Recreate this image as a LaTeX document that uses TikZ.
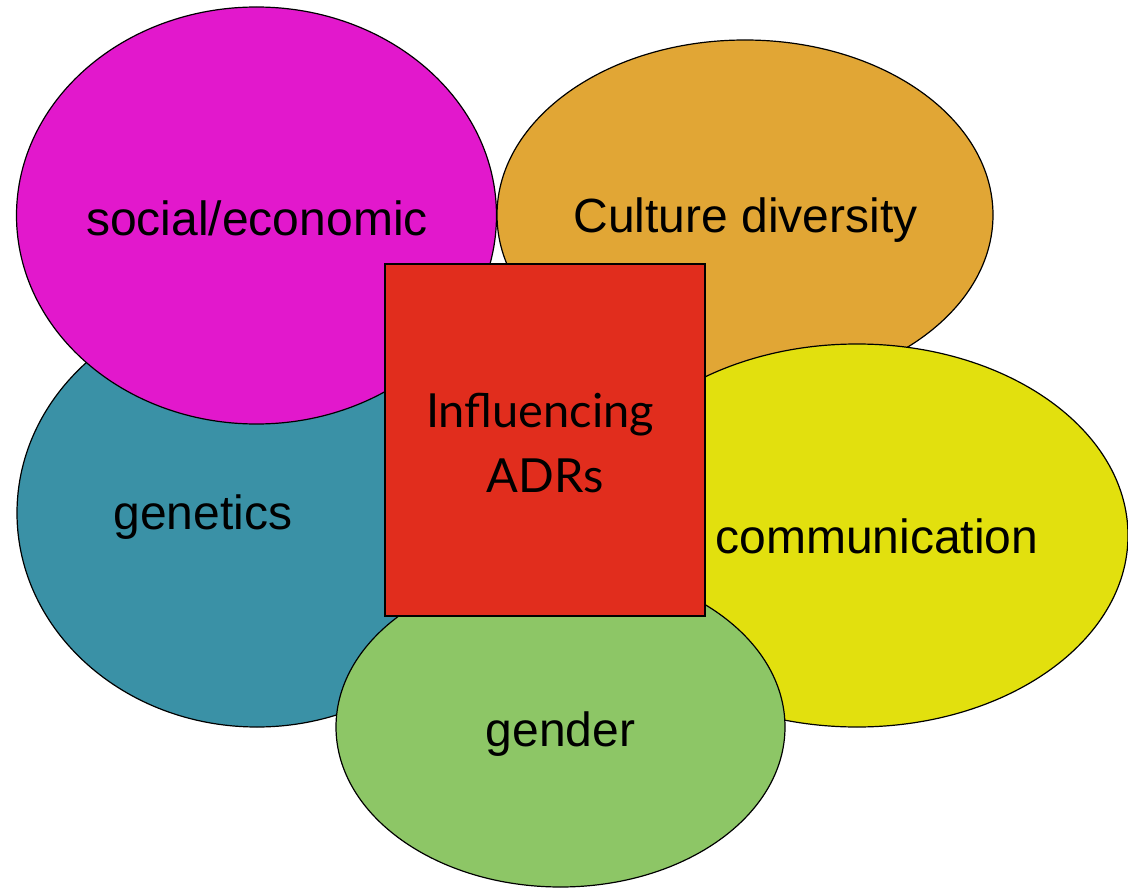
\documentclass[tikz,border=0pt]{standalone}
\usepackage{fontspec}
\usetikzlibrary{shapes.geometric}
\newfontfamily\labelfont{Liberation Sans}
\newfontfamily\centrefont{Lato}
\definecolor{cMagenta}{RGB}{226,24,204}
\definecolor{cOrange}{RGB}{225,166,53}
\definecolor{cTeal}{RGB}{58,145,166}
\definecolor{cYellow}{RGB}{226,224,14}
\definecolor{cGreen}{RGB}{141,198,102}
\definecolor{cRed}{RGB}{225,45,29}
\tikzset{
  blob/.style={ellipse, draw=black, line width=1.2pt, inner sep=0pt},
  blobtext/.style={anchor=base, inner sep=0pt, font=\labelfont\fontsize{48}{56}\selectfont},
  corebox/.style={rectangle, draw=black, line width=2.4pt, fill=cRed, inner sep=0pt},
  coretext/.style={anchor=base, inner sep=0pt, font=\centrefont\fontsize{47}{56}\selectfont}
}
\begin{document}
\begin{tikzpicture}[x=1pt,y=-1pt]
  \useasboundingbox (0,0) rectangle (1128,888);
  % factor ellipses, back to front
  \node[blob, fill=cTeal, minimum width=480pt, minimum height=428pt] (genetics) at (257,513) {};
  \node[blob, fill=cMagenta, minimum width=480pt, minimum height=417pt] (social) at (256.5,215.5) {};
  \node[blob, fill=cOrange, minimum width=496pt, minimum height=350pt] (culture) at (745,215) {};
  \node[blob, fill=cYellow, minimum width=542pt, minimum height=383pt] (comm) at (857,535.5) {};
  \node[blob, fill=cGreen, minimum width=449pt, minimum height=320pt] (gender) at (560.5,727) {};
  % labels
  \node[blobtext] (tsocial) at (257,235) {social/economic};
  \node[blobtext] (tculture) at (745.5,233) {Culture diversity};
  \node[blobtext] (tgenetics) at (203,529) {genetics};
  \node[blobtext] (tcomm) at (877,553) {communication};
  \node[blobtext] (tgender) at (560.5,746) {gender};
  % central box
  \node[corebox, minimum width=320pt, minimum height=351.7pt] (core) at (545,440) {};
  \node[coretext] (tcore1) at (540,427) {Influencing};
  \node[coretext] (tcore2) at (545,492) {ADRs};
\end{tikzpicture}
\end{document}
